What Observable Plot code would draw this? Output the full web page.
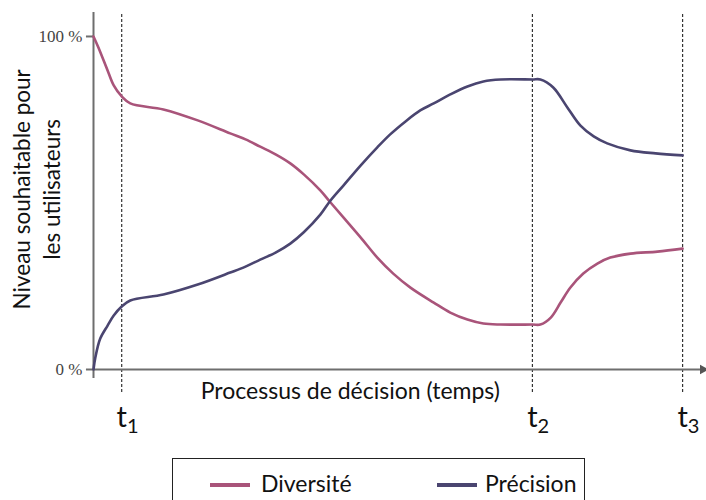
<!DOCTYPE html>
<html>
<head>
<meta charset="utf-8">
<script src="https://cdn.jsdelivr.net/npm/d3@7"></script>
<script src="https://cdn.jsdelivr.net/npm/@observablehq/plot@0.6"></script>
<style>
  html, body { margin: 0; padding: 0; background: white; }
  #wrap { position: relative; width: 706px; height: 500px; overflow: hidden; }
  #legend { position: absolute; left: 172px; top: 458px; width: 411px; height: 60px;
            border: 1.5px solid #222; font-family: Lato, sans-serif; font-size: 23px; color: #111; }
  .sw { position: absolute; top: 24px; height: 3.5px; }
  .lb { position: absolute; top: 10px; line-height: 28px; }
</style>
</head>
<body>
<div id="wrap">
  <div id="chart"></div>
  <div id="legend"></div>
</div>
<script>
// Series names and colours
const seriesNames = ["Diversité", "Précision"];
const seriesColors = ["#a9547a", "#4a4570"];

// Diversité (time in arbitrary units 0–100, level in %)
const diversiteX = [0, 0.8, 2.3, 3.3, 4.6, 6.0, 11.4, 17.0, 22.3, 24.8, 27.2, 29.7, 32.1, 34.3, 37.0, 38.6, 40.8, 43.6, 46.3, 48.9, 51.7, 55.5, 58.2, 61.0, 63.6, 66.4, 71.6, 72.9, 74.6, 76.2, 77.8, 79.9, 82.2, 84.3, 87.6, 92.0, 96.1];
const diversiteY = [100, 96.7, 89.8, 85.3, 82.0, 79.9, 78.1, 74.8, 70.9, 69.1, 66.9, 64.6, 61.9, 58.6, 53.8, 50.3, 45.6, 39.6, 33.6, 28.8, 24.6, 20.1, 17.1, 15.0, 13.8, 13.5, 13.5, 13.5, 15.6, 20.1, 24.6, 28.8, 31.8, 33.6, 34.8, 35.4, 36.3];

// Précision
const precisionX = [0, 0.3, 1.1, 2.3, 3.3, 4.6, 6.0, 11.4, 17.0, 22.3, 24.8, 27.2, 29.7, 32.1, 34.3, 37.0, 38.6, 40.8, 43.6, 46.3, 48.4, 50.9, 53.3, 55.5, 58.2, 61.0, 63.6, 66.4, 71.6, 72.9, 75.0, 77.3, 79.4, 81.6, 83.8, 87.6, 91.7, 96.1];
const precisionY = [0, 3.6, 9.3, 13.2, 16.2, 18.9, 20.7, 22.5, 25.5, 29.1, 30.9, 33.0, 35.1, 37.8, 41.2, 46.5, 50.6, 55.3, 61.3, 66.7, 70.6, 74.5, 77.8, 79.9, 82.6, 85.0, 86.5, 87.1, 87.1, 87.1, 84.7, 78.7, 73.3, 70.0, 67.9, 65.8, 64.9, 64.3];

// Time markers
const tPositions = [4.6, 71.6, 96.1];
const tSubscripts = ["1", "2", "3"];

// Y tick values
const yTicks = [0, 100];

// Axis titles
const xTitle = "Processus de décision (temps)";
const yTitleLines = ["Niveau souhaitable pour", "les utilisateurs"];

const rows = [
  ...diversiteX.map((x, i) => ({series: seriesNames[0], x, y: diversiteY[i]})),
  ...precisionX.map((x, i) => ({series: seriesNames[1], x, y: precisionY[i]}))
];
const tMarks = tPositions.map((x, i) => ({x, sub: tSubscripts[i]}));

const chart = Plot.plot({
  width: 706,
  height: 455,
  marginLeft: 93,
  marginRight: 0,
  marginTop: 12,
  marginBottom: 86,
  x: {domain: [0, 100], axis: null},
  y: {domain: [0, 107.2], axis: null},
  color: {domain: seriesNames, range: seriesColors},
  style: {fontFamily: "Lato, sans-serif", background: "white", overflow: "visible"},
  marks: [
    Plot.ruleX(tPositions, {x: d => d, y1: -6.9, y2: 107.2, stroke: "#333", strokeWidth: 1.2, strokeDasharray: "3,2"}),
    // y ticks and labels
    Plot.ruleY(yTicks, {y: d => d, x1: -1.15, x2: 0, stroke: "#6e6e6e", strokeWidth: 2}),
    Plot.text(yTicks, {x: 0, y: d => d, dx: -11, text: d => `${d} %`, textAnchor: "end",
      fontSize: 17, fontFamily: "Liberation Serif, serif", fill: "#444"}),
    // axes lines
    Plot.ruleX([0], {x: d => d, y1: -2.7, y2: 107.2, stroke: "#6e6e6e", strokeWidth: 2}),
    Plot.ruleY([0], {y: d => d, x1: 0, x2: 99.5, stroke: "#6e6e6e", strokeWidth: 2}),
    Plot.dot([0], {x: 99.4, y: d => d, symbol: "triangle", r: 3.6, rotate: 90, fill: "#555", stroke: null}),
    // curves
    Plot.line(rows, {x: "x", y: "y", stroke: "series", curve: "catmull-rom", strokeWidth: 2.6}),
    // labels
    Plot.text([xTitle], {x: 41.9, y: -8.9, text: d => d, fontSize: 23, fill: "#111", lineAnchor: "bottom"}),
    Plot.text(tMarks, {x: "x", y: -17.4, text: () => "t", fontSize: 29, fill: "#111", lineAnchor: "bottom"}),
    Plot.text(tMarks, {x: "x", y: -19.2, text: "sub", dx: 11, fontSize: 20, fill: "#111", lineAnchor: "bottom"}),
    Plot.text(yTitleLines, {x: (d, i) => i === 0 ? -11.6 : -6.7, y: 54.1, text: d => d, rotate: -90, fontSize: 22.5, fill: "#111"})
  ]
});
document.getElementById("chart").appendChild(chart);

// Legend
const legend = document.getElementById("legend");
const swX = [37, 264];
const lbX = [88, 312];
seriesNames.forEach((name, i) => {
  const sw = document.createElement("div");
  sw.className = "sw";
  sw.style.left = swX[i] + "px";
  sw.style.width = "40px";
  sw.style.background = seriesColors[i];
  legend.appendChild(sw);
  const lb = document.createElement("div");
  lb.className = "lb";
  lb.style.left = lbX[i] + "px";
  lb.textContent = name;
  legend.appendChild(lb);
});
</script>
</body>
</html>
